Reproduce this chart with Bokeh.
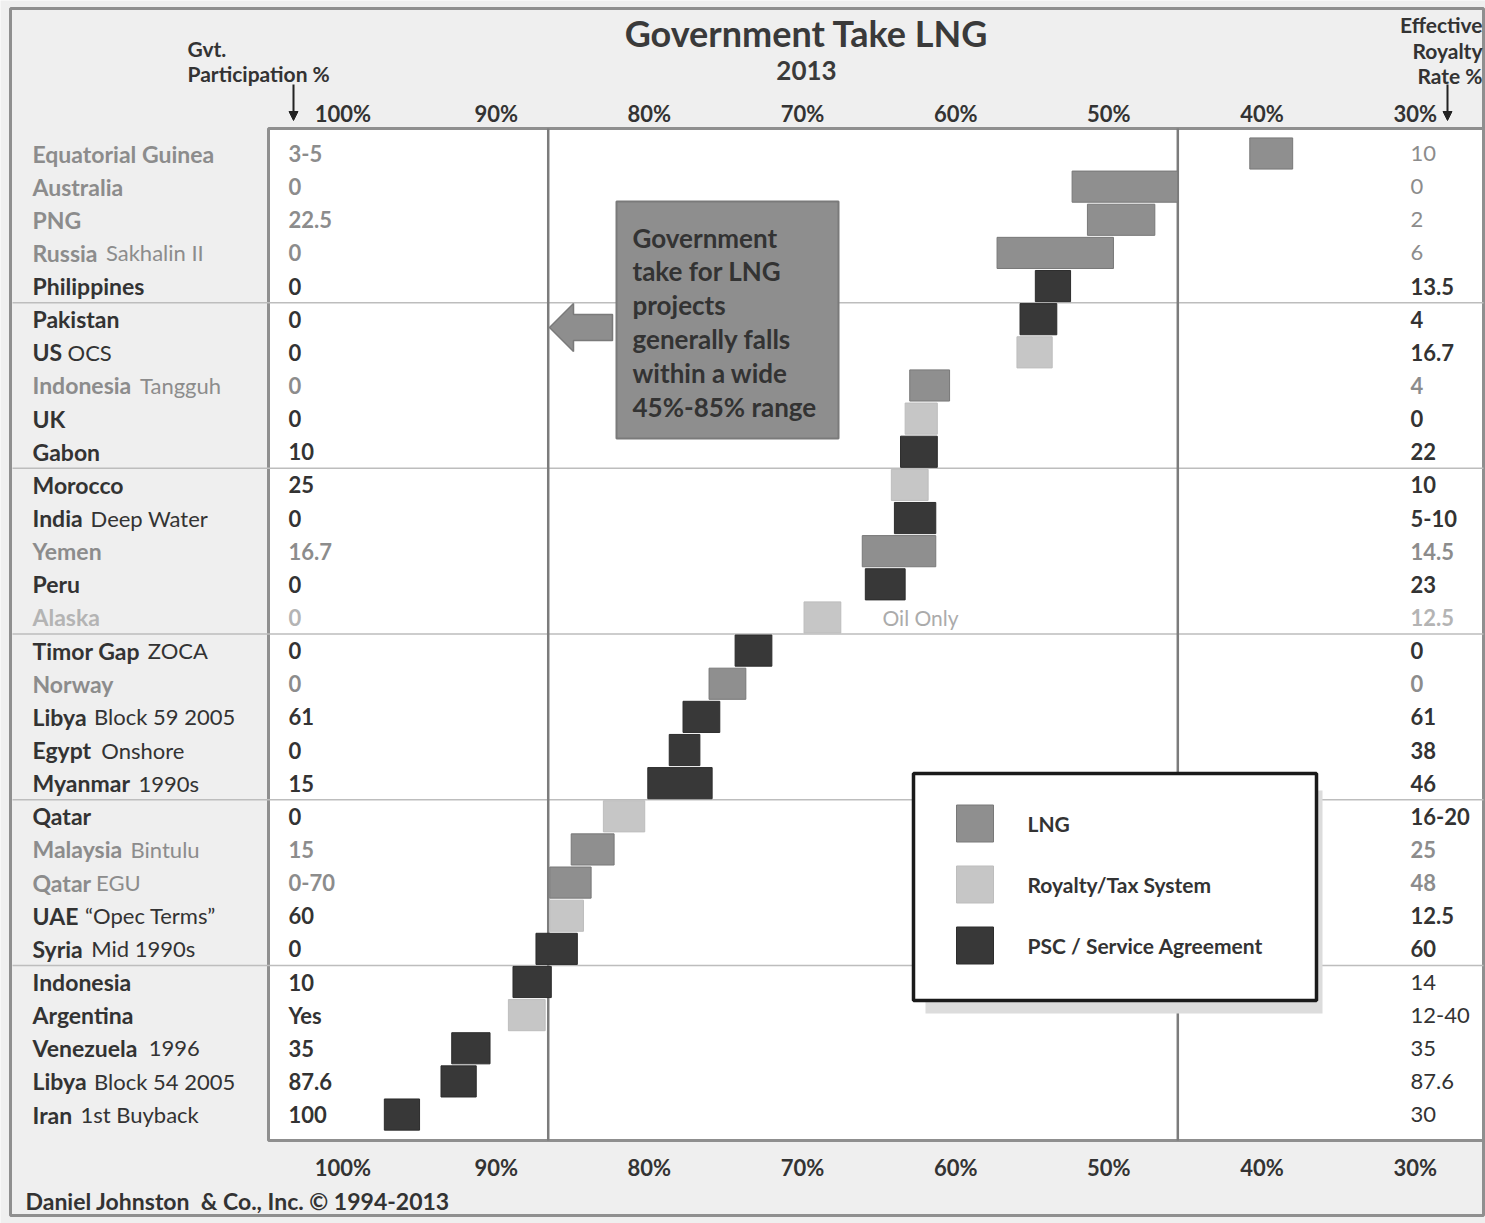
from bokeh.plotting import figure
from bokeh.models import Range1d, ColumnDataSource, Arrow, NormalHead
from bokeh.core.properties import value
from bokeh.embed import file_html
from bokeh.resources import INLINE

# ---------------------------------------------------------------- data
COUNTRIES = [
    "Equatorial Guinea", "Australia", "PNG", "Russia", "Philippines",
    "Pakistan", "US", "Indonesia", "UK", "Gabon",
    "Morocco", "India", "Yemen", "Peru", "Alaska",
    "Timor Gap", "Norway", "Libya", "Egypt", "Myanmar",
    "Qatar", "Malaysia", "Qatar", "UAE", "Syria",
    "Indonesia", "Argentina", "Venezuela", "Libya", "Iran",
]
QUALIFIERS = [
    "", "", "", "Sakhalin II", "",
    "", "OCS", "Tangguh", "", "",
    "", "Deep Water", "", "", "",
    "ZOCA", "", "Block 59 2005", "Onshore", "1990s",
    "", "Bintulu", "EGU", "\u201cOpec Terms\u201d", "Mid 1990s",
    "", "", "1996", "Block 54 2005", "1st Buyback",
]
PARTICIPATION = [
    "3-5", "0", "22.5", "0", "0",
    "0", "0", "0", "0", "10",
    "25", "0", "16.7", "0", "0",
    "0", "0", "61", "0", "15",
    "0", "15", "0-70", "60", "0",
    "10", "Yes", "35", "87.6", "100",
]
ROYALTY = [
    "10", "0", "2", "6", "13.5",
    "4", "16.7", "4", "0", "22",
    "10", "5-10", "14.5", "23", "12.5",
    "0", "0", "61", "38", "46",
    "16-20", "25", "48", "12.5", "60",
    "14", "12-40", "35", "87.6", "30",
]
# government take range per project (% of profit), high and low ends
TAKE_HIGH = [
    40.8, 52.4, 51.4, 57.3, 54.8,
    55.8, 56.0, 63.0, 63.3, 63.6,
    64.2, 64.0, 66.1, 65.9, 69.9,
    74.4, 76.1, 77.8, 78.7, 80.1,
    83.0, 85.1, 86.5, 86.5, 87.4,
    88.9, 89.2, 92.9, 93.6, 97.3,
]
TAKE_LOW = [
    38.0, 45.5, 47.0, 49.7, 52.5,
    53.4, 53.7, 60.4, 61.2, 61.2,
    61.8, 61.3, 61.3, 63.3, 67.5,
    72.0, 73.7, 75.4, 76.7, 75.9,
    80.3, 82.3, 83.8, 84.3, 84.7,
    86.4, 86.8, 90.4, 91.3, 95.0,
]
SYSTEM = [
    "LNG", "LNG", "LNG", "LNG", "PSC",
    "PSC", "RT", "LNG", "RT", "PSC",
    "RT", "PSC", "LNG", "PSC", "RT",
    "PSC", "LNG", "PSC", "PSC", "PSC",
    "RT", "LNG", "LNG", "RT", "PSC",
    "PSC", "RT", "PSC", "PSC", "PSC",
]
SYSTEM_KEYS = ["LNG", "RT", "PSC"]
SYSTEM_NAMES = ["LNG", "Royalty/Tax System", "PSC / Service Agreement"]
TICKS = [100, 90, 80, 70, 60, 50, 40, 30]
TICK_LABELS = ["100%", "90%", "80%", "70%", "60%", "50%", "40%", "30%"]
RANGE_LINES = [86.6, 45.5]
NOTE_LINES = ["Government", "take for LNG", "projects", "generally falls",
              "within a wide", "45%-85% range"]

# ---------------------------------------------------------------- styling
FONT = value("Lato")
DARK, GRAY, LIGHT = "#333333", "#8c8c8c", "#b4b4b4"
SYSTEM_FILL = {"LNG": "#8f8f8f", "RT": "#c6c6c6", "PSC": "#383838"}
SYSTEM_EDGE = {"LNG": "#787878", "RT": "#bdbdbd", "PSC": "#2c2c2c"}
GRAY_ROWS = {0, 1, 2, 3, 7, 12, 16, 21, 22}
LIGHT_ROWS = {14}
PLAIN_ROYALTY_ROWS = {0, 1, 2, 3, 25, 26, 27, 28, 29}
NAME_SIZE = 23

W, H = 1485, 1223
PX_PER_PCT = 15.318
ROW0_PX, ROW_PX = 153.0, 33.14


def X(px):
    """screen column -> percent value on the reversed take axis"""
    return 65.0 - (px - 878.6) / PX_PER_PCT


def Y(py):
    """screen row -> row index"""
    return (py - ROW0_PX) / ROW_PX


def tone(i):
    if i in LIGHT_ROWS:
        return LIGHT
    if i in GRAY_ROWS:
        return GRAY
    return DARK


# approximate Lato Bold advance widths (em) to place the qualifier after a name
_W = {" ": 0.22, "i": 0.26, "l": 0.26, "j": 0.26, "I": 0.30, "f": 0.34,
      "t": 0.37, "r": 0.39, "s": 0.44, "c": 0.47, "z": 0.46, "m": 0.86,
      "w": 0.78, "W": 0.98, "M": 0.92, "y": 0.52, "v": 0.52, "k": 0.52,
      "a": 0.52, "S": 0.56, "L": 0.50, "b": 0.57}


def text_width(s, size):
    w = 0.0
    for ch in s:
        if ch in _W:
            w += _W[ch]
        elif ch.isupper():
            w += 0.66
        elif ch.isdigit():
            w += 0.58
        else:
            w += 0.57
    return w * size


p = figure(width=W, height=H, x_range=Range1d(X(0), X(W)),
           y_range=Range1d(Y(H), Y(0)), x_axis_location=None,
           y_axis_location=None, output_backend="svg", toolbar_location=None,
           min_border=0)
p.grid.visible = False
p.outline_line_color = None
p.background_fill_color = "#efefef"
p.border_fill_color = "#efefef"

# page border and white chart panel
p.quad(left=X(10), right=X(1483), top=Y(8), bottom=Y(1215),
       fill_color="#efefef", line_color="#8f8f8f", line_width=3)
p.quad(left=X(268), right=X(1483), top=Y(128), bottom=Y(1140),
       fill_color="white", line_color="#8f8f8f", line_width=3)

# group separators every five rows
n = len(COUNTRIES)
seps = [k - 0.5 for k in range(5, n, 5)]
p.segment(x0=[X(12)] * len(seps), x1=[X(1483)] * len(seps), y0=seps, y1=seps,
          line_color="#bdbdbd", line_width=1.5)

# typical range boundaries
p.segment(x0=RANGE_LINES, x1=RANGE_LINES, y0=[Y(128)] * 2, y1=[Y(1140)] * 2,
          line_color="#7c7c7c", line_width=2.5)

# bars
rows = list(range(n))
bars = ColumnDataSource(dict(
    high=TAKE_HIGH, low=TAKE_LOW,
    top=[r - 0.47 for r in rows], bottom=[r + 0.47 for r in rows],
    fill=[SYSTEM_FILL[s] for s in SYSTEM], edge=[SYSTEM_EDGE[s] for s in SYSTEM],
))
p.quad(left="high", right="low", top="top", bottom="bottom", source=bars,
       fill_color="fill", line_color="edge", line_width=1)

# row labels
names = ColumnDataSource(dict(x=[X(32)] * n, y=rows, text=COUNTRIES,
                              color=[tone(i) for i in rows]))
p.text(x="x", y="y", text="text", source=names, text_color="color",
       text_font=FONT, text_font_style="bold", text_font_size=f"{NAME_SIZE}px",
       text_baseline="middle")

qi = [i for i in rows if QUALIFIERS[i]]
quals = ColumnDataSource(dict(
    x=[X(32 + text_width(COUNTRIES[i], NAME_SIZE) + 7) for i in qi], y=qi,
    text=[QUALIFIERS[i] for i in qi], color=[tone(i) for i in qi]))
p.text(x="x", y="y", text="text", source=quals, text_color="color",
       text_font=FONT, text_font_size="22px", text_baseline="middle")

part = ColumnDataSource(dict(x=[X(288)] * n, y=rows, text=PARTICIPATION,
                             color=[tone(i) for i in rows]))
p.text(x="x", y="y", text="text", source=part, text_color="color",
       text_font=FONT, text_font_style="bold", text_font_size="22px",
       text_baseline="middle")

bold_r = [i for i in rows if i not in PLAIN_ROYALTY_ROWS]
plain_r = [i for i in rows if i in PLAIN_ROYALTY_ROWS]
for idx, style in ((bold_r, "bold"), (plain_r, "normal")):
    src = ColumnDataSource(dict(x=[X(1410)] * len(idx), y=idx,
                                text=[ROYALTY[i] for i in idx],
                                color=[tone(i) for i in idx]))
    p.text(x="x", y="y", text="text", source=src, text_color="color",
           text_font=FONT, text_font_style=style, text_font_size="22px",
           text_baseline="middle")

p.text(x=[X(882)], y=[14], text=["Oil Only"], text_color="#ababab",
       text_font=FONT, text_font_size="21px", text_baseline="middle")

# percentage scales above and below
for ypx in (113, 1167):
    p.text(x=TICKS, y=[Y(ypx)] * len(TICKS), text=TICK_LABELS,
           text_color=DARK, text_font=FONT, text_font_style="bold",
           text_font_size="22px", text_align="center", text_baseline="middle")

# titles and column headings
p.text(x=[X(806)], y=[Y(32)], text=["Government Take LNG"], text_color="#3a3a3a",
       text_font=FONT, text_font_style="bold", text_font_size="36px",
       text_align="center", text_baseline="middle")
p.text(x=[X(806)], y=[Y(70)], text=["2013"], text_color="#3a3a3a",
       text_font=FONT, text_font_style="bold", text_font_size="26px",
       text_align="center", text_baseline="middle")
p.text(x=[X(187)] * 2, y=[Y(48), Y(73)], text=["Gvt.", "Participation %"],
       text_color=DARK, text_font=FONT, text_font_style="bold",
       text_font_size="21px", text_baseline="middle")
p.text(x=[X(1482)] * 3, y=[Y(24), Y(50), Y(75)],
       text=["Effective", "Royalty", "Rate %"], text_color=DARK, text_font=FONT,
       text_font_style="bold", text_font_size="21px", text_align="right",
       text_baseline="middle")
for xpx in (293, 1447):
    p.add_layout(Arrow(x_start=X(xpx), y_start=Y(84), x_end=X(xpx), y_end=Y(120),
                       line_color="#222222", line_width=2,
                       end=NormalHead(size=9, fill_color="#222222",
                                      line_color="#222222")))

p.text(x=[X(25)], y=[Y(1200)], text=["Daniel Johnston \u00a0& Co., Inc. \u00a9 1994-2013"],
       text_color=DARK, text_font=FONT, text_font_style="bold",
       text_font_size="23px", text_baseline="middle")

# call-out box with arrow
p.quad(left=X(616), right=X(838), top=Y(201), bottom=Y(438),
       fill_color="#8e8e8e", line_color="#7a7a7a", line_width=2)
p.text(x=[X(632)] * len(NOTE_LINES), y=[Y(237 + 33.8 * k) for k in range(len(NOTE_LINES))],
       text=NOTE_LINES, text_color="#333333", text_font=FONT,
       text_font_style="bold", text_font_size="26px", text_baseline="middle")
p.patch(x=[X(612), X(573), X(573), X(549), X(573), X(573), X(612)],
        y=[Y(314), Y(314), Y(303), Y(327), Y(351), Y(340), Y(340)],
        fill_color="#8e8e8e", line_color="#7a7a7a", line_width=1.5)

# legend
p.quad(left=X(925), right=X(1322), top=Y(790), bottom=Y(1013),
       fill_color="#dcdcdc", line_color=None)
p.quad(left=X(913), right=X(1316), top=Y(773), bottom=Y(1000),
       fill_color="white", line_color="#1a1a1a", line_width=3.5)
ly = [Y(823 + 61 * k) for k in range(3)]
half = 18.5 / ROW_PX
p.quad(left=[X(956)] * 3, right=[X(993)] * 3, top=[v - half for v in ly],
       bottom=[v + half for v in ly],
       fill_color=[SYSTEM_FILL[k] for k in SYSTEM_KEYS],
       line_color=[SYSTEM_EDGE[k] for k in SYSTEM_KEYS])
p.text(x=[X(1027)] * 3, y=ly, text=SYSTEM_NAMES, text_color=DARK,
       text_font=FONT, text_font_style="bold", text_font_size="21px",
       text_baseline="middle")

open("out.html", "w").write(file_html(p, INLINE))
